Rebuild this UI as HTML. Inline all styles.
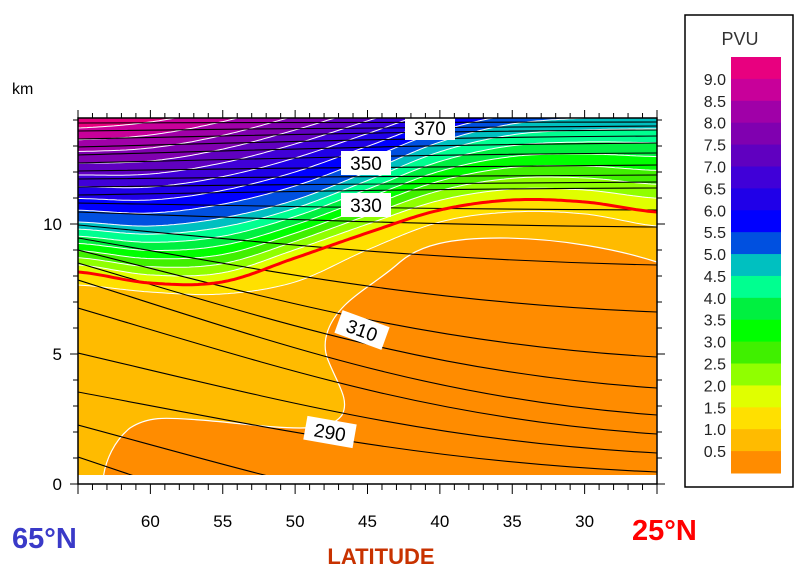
<!DOCTYPE html>
<html><head><meta charset="utf-8">
<style>
body{margin:0;background:#fff;width:810px;height:578px;overflow:hidden;font-family:"Liberation Sans",sans-serif;}
svg{position:absolute;left:0;top:0}
</style></head><body>
<svg id="s" width="810" height="578" xmlns="http://www.w3.org/2000/svg" font-family="Liberation Sans, sans-serif">
<defs><clipPath id="cp"><rect x="78" y="118" width="579" height="357"/></clipPath></defs>
<g id="plot" clip-path="url(#cp)"></g>
<g id="ax"></g>
</svg>
<script>
const NS="http://www.w3.org/2000/svg";
const S=document.getElementById('s'),P=document.getElementById('plot'),A=document.getElementById('ax');
function el(p,t,a,txt){const e=document.createElementNS(NS,t);for(const k in a)e.setAttribute(k,a[k]);if(txt!==undefined)e.textContent=txt;p.appendChild(e);return e;}
const XS=[78,150,222,295,367,440,512,585,657];
const L10=[285,292,294,282,250,222,212,214,226];
const L15=[272,283,282,258,233,210,200,202,212];
const L50=[222,226,218,200,172,142,124,118,115];
const L90=[128,122,108,88,70,55,50,50,50];
function cr(ys,x){let i=0;while(i<XS.length-2&&x>XS[i+1])i++;const t=(x-XS[i])/(XS[i+1]-XS[i]);
 const p0=ys[Math.max(i-1,0)],p1=ys[i],p2=ys[i+1],p3=ys[Math.min(i+2,ys.length-1)];
 return 0.5*((2*p1)+(-p0+p2)*t+(2*p0-5*p1+4*p2-p3)*t*t+(-p0+3*p1-3*p2+p3)*t*t*t);}
function lev(b,x){
 if(b<=1.5){const f=(b-1)/0.5;return cr(L10,x)*(1-f)+cr(L15,x)*f;}
 if(b<=5){const f=(b-1.5)/3.5;return cr(L15,x)*(1-f)+cr(L50,x)*f;}
 const f=(b-5)/4;return cr(L50,x)*(1-f)+cr(L90,x)*f;}
function curve(b){let pts=[];for(let x=78;x<=657;x+=3)pts.push([x,lev(b,x)]);pts.push([657,lev(b,657)]);return pts;}
el(P,'rect',{x:78,y:118,width:579,height:357,fill:'#ffbb00'});
const blob="M657,262 C620,250 560,238 500,238 C450,238 420,245 400,262 C380,280 360,290 345,305 C330,320 320,340 328,360 C338,385 350,400 342,415 C335,425 320,428 300,428 C270,428 240,423 200,420 C170,418 150,415 130,428 C115,440 105,460 103,480 L657,480 Z";
el(P,'path',{d:blob,fill:'#ff8c00',stroke:'#fff','stroke-width':1.2});
const cols=['#ffe000','#e0ff00','#90ff00','#40f000','#00ff00','#00f040','#00ff90','#00c0c0','#0050e0','#0000ff','#2000e8','#4000d8','#6000c0','#8000b0','#a000a8','#c8009a','#e8007f'];
for(let i=0;i<17;i++){const b=1+0.5*i;const pts=curve(b);
 let d='M78,60 L'+pts.map(p=>p[0].toFixed(1)+','+p[1].toFixed(1)).join(' L')+' L657,60 Z';
 el(P,'path',{d:d,fill:cols[i]});}
for(let i=0;i<17;i++){const b=1+0.5*i;const pts=curve(b);
 el(P,'polyline',{points:pts.map(p=>p[0].toFixed(1)+','+p[1].toFixed(1)).join(' '),fill:'none',stroke:'#fff','stroke-width':1});}
const Ly=[123,131,139,147,155,163,171,179,187,195,203,212,225,238,250,263,280,308,353,392,425,457];
const Ry=[122,126,130,136,143,153,165,175,182,188,210,227,265,312,357,388,415,434,453,472,540,600];
for(let i=0;i<Ly.length;i++){const L=Ly[i],R=Ry[i];
 const c1=L+(R-L)*0.45,c2=R-(R-L)*0.12;
 el(P,'path',{d:`M78,${L} C270,${c1} 430,${c2} 657,${R}`,fill:'none',stroke:'#000','stroke-width':1.1});}
el(P,'polyline',{points:curve(1.5).map(p=>p[0].toFixed(1)+','+p[1].toFixed(1)).join(' '),fill:'none',stroke:'#ff0000','stroke-width':3});
function lab(cx,cy,rot,t){const g=el(P,'g',{transform:`translate(${cx},${cy}) rotate(${rot})`});
 el(g,'rect',{x:-25,y:-12,width:50,height:24,fill:'#fff'});
 el(g,'text',{x:0,y:7,'text-anchor':'middle','font-size':19,fill:'#000'},t);}
lab(430,128,0,'370');lab(366,163,0,'350');lab(366,205,0,'330');lab(362,330,20,'310');lab(330,432,10,'290');
el(A,'rect',{x:78,y:118,width:579,height:366,fill:'none',stroke:'#000','stroke-width':1.5});
for(let k=0;k<=14;k++){const y=484-26*k;const big=k%5==0;
 el(A,'line',{x1:78-(big?8:5),y1:y,x2:78,y2:y,stroke:'#000'});
 el(A,'line',{x1:657,y1:y,x2:657+(big?8:5),y2:y,stroke:'#000'});}
for(let d=0;d<=40;d++){const x=78+d*14.475;const big=d%5==0;
 el(A,'line',{x1:x,y1:484,x2:x,y2:484+(big?10:6),stroke:'#000'});
 el(A,'line',{x1:x,y1:118,x2:x,y2:118-(big?8:5),stroke:'#000'});}
[['0',490],['5',360],['10',230]].forEach(a=>el(A,'text',{x:62,y:a[1],'text-anchor':'end','font-size':17,fill:'#000'},a[0]));
el(A,'text',{x:12,y:94,'font-size':16,fill:'#000'},'km');
[60,55,50,45,40,35,30].forEach(v=>{const x=78+(65-v)*14.475;el(A,'text',{x:x,y:527,'text-anchor':'middle','font-size':17,fill:'#000'},String(v));});
el(A,'text',{x:12,y:548,'font-size':29,'font-weight':'bold',fill:'#3a3ac8'},'65°N');
el(A,'text',{x:632,y:540,'font-size':29,'font-weight':'bold',fill:'#ff0000'},'25°N');
el(A,'text',{x:381,y:564,'text-anchor':'middle','font-size':22,'font-weight':'bold',fill:'#c83200'},'LATITUDE');
el(A,'rect',{x:685,y:15,width:108,height:472,fill:'#fff',stroke:'#000','stroke-width':1.5});
el(A,'text',{x:740,y:45,'text-anchor':'middle','font-size':18,fill:'#333'},'PVU');
const cb=['#e8007f','#c8009a','#a000a8','#8000b0','#6000c0','#4000d8','#2000e8','#0000ff','#0050e0','#00c0c0','#00ff90','#00f040','#00ff00','#40f000','#90ff00','#e0ff00','#ffe000','#ffbb00','#ff8c00'];
const h=(473-57)/19;
cb.forEach((c,i)=>el(A,'rect',{x:731,y:57+i*h,width:50,height:h+0.5,fill:c}));
for(let i=0;i<18;i++){const v=(9-0.5*i).toFixed(1);el(A,'text',{x:726,y:57+(i+1)*h+6,'text-anchor':'end','font-size':16,fill:'#222'},v);}
</script>
</body></html>
